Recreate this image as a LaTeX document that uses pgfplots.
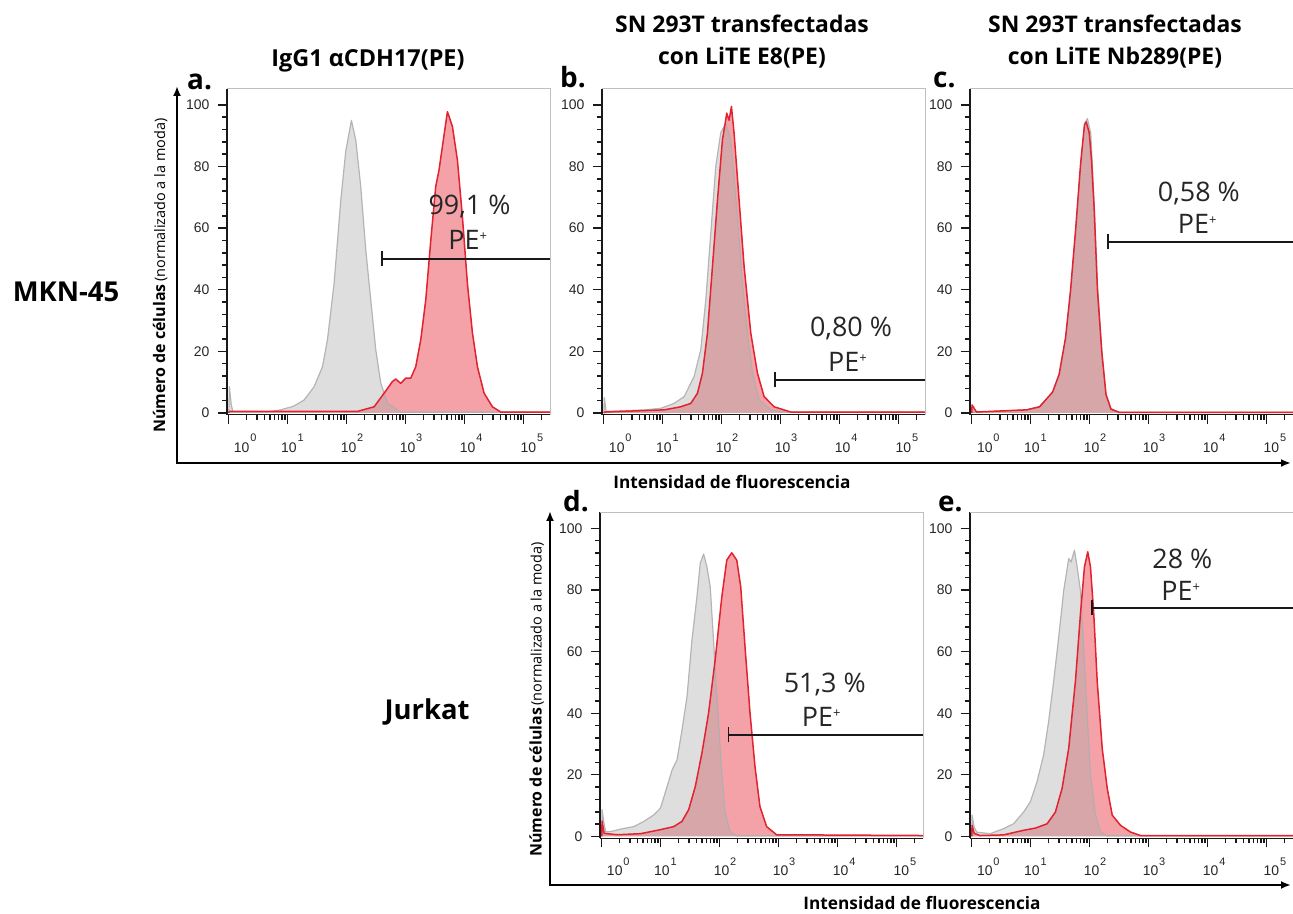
\documentclass[border=0pt]{standalone}
\usepackage{pgfplots}
\pgfplotsset{compat=1.18}
\usepackage{pgfplotstable}
\usepackage{fontspec}
\setmainfont{Open Sans}
\newfontfamily\lib{Liberation Sans}
\usetikzlibrary{arrows.meta}
\definecolor{grayfill}{RGB}{172,172,172}
\definecolor{grayline}{RGB}{175,175,175}
\definecolor{redline}{RGB}{226,34,46}
\definecolor{redfill}{RGB}{244,162,167}
\newcommand{\dec}[1]{10\rlap{\hspace{0.8bp}\raisebox{10.5bp}{\fontsize{11}{11}\selectfont #1}}}
\newcommand{\peplus}{PE\raisebox{9bp}{\fontsize{13}{13}\selectfont +}}

\pgfplotstableread{
x y
0 0
0.01 8.5
0.04 3
0.07 0.3
0.65 0.3
0.88 1
1.10 2.2
1.277 4.2
1.446 8.5
1.588 15
1.672 23.7
1.785 42
1.898 69
1.983 85
2.079 95
2.153 88.6
2.237 73.5
2.322 53
2.407 36.7
2.492 20.5
2.576 9.7
2.689 3.2
2.915 0.3
5.45 0.3
5.45 0
}\agray
\pgfplotstableread{
x y
0 0
0.01 0.5
2.181 0.5
2.463 2
2.633 6.4
2.774 10.2
2.831 11
2.915 9.6
3.0 11.3
3.085 11.3
3.169 15
3.254 23.7
3.339 36.7
3.424 56
3.508 73.5
3.565 79
3.621 86.5
3.706 97.8
3.791 93
3.876 82
3.96 63.7
4.045 42
4.13 26
4.215 15
4.328 6.4
4.469 2
4.61 0.3
5.45 0.3
5.45 0
}\ared
\pgfplotstableread{
x y
0 0
0.01 5
0.04 0.5
0.684 1
0.966 1.5
1.192 3.1
1.362 5.3
1.531 11.8
1.644 20.5
1.729 36.7
1.814 58.4
1.898 80
1.983 91
2.068 94
2.153 88.6
2.266 63.7
2.350 42
2.435 25.9
2.520 13
2.633 4.2
2.831 1
3.1 0.3
5.45 0.3
5.45 0
}\bgray
\pgfplotstableread{
x y
0 0
0.02 0.3
1.023 1
1.305 2
1.475 3.1
1.588 6.4
1.672 12.9
1.757 25.9
1.842 47.5
1.927 69
2.011 88.6
2.085 97.3
2.124 95
2.164 99.5
2.209 90.8
2.294 69
2.379 47.5
2.492 25.9
2.605 12.9
2.718 5.3
2.887 2
3.169 0.3
5.45 0.3
5.45 0
}\bred
\pgfplotstableread{
x y
0 0
0.02 0.2
0.915 1
1.141 2
1.254 4.2
1.367 6.4
1.480 11.8
1.593 23.7
1.678 38.9
1.763 58.3
1.847 80
1.915 94
1.960 95.6
2.017 90.8
2.073 69
2.129 42
2.203 20.5
2.271 6.4
2.356 1.5
2.497 0.2
5.45 0.2
5.45 0
}\cgray
\pgfplotstableread{
x y
0 0
0.005 2.6
0.04 1.5
0.08 0.3
0.93 1
1.15 2
1.26 4.4
1.37 6.8
1.48 12.5
1.59 24.5
1.675 40
1.76 59.5
1.845 81
1.91 93.5
1.94 94.5
1.99 91
2.03 82
2.075 66
2.13 40
2.205 19.5
2.275 6
2.36 1.2
2.5 0.2
5.45 0.2
5.45 0
}\cred
\pgfplotstableread{
x y
0 0
0.005 8.7
0.04 4
0.067 1.5
0.152 1.6
0.32 2.4
0.545 3.2
0.714 4.9
0.882 7
0.995 9.2
1.107 16.2
1.192 21.6
1.276 24.9
1.360 34.6
1.445 45.4
1.529 63.8
1.613 77.8
1.669 88.7
1.726 91.7
1.782 87.6
1.838 81.1
1.894 63.8
1.951 45.4
2.035 20.6
2.091 7.6
2.175 1.6
2.288 0.2
5.45 0.2
5.45 0
}\dgray
\pgfplotstableread{
x y
0 0
0.005 5
0.04 1
0.264 0.55
0.658 0.9
0.995 2.2
1.220 3.2
1.360 4.9
1.473 8.7
1.585 16.2
1.697 27
1.810 40
1.922 57.3
2.035 77.8
2.119 89.7
2.203 92.1
2.288 89.7
2.355 81.1
2.428 61.6
2.513 40
2.597 22.7
2.681 9.7
2.794 3.2
2.963 0.55
5.45 0.3
5.45 0
}\dred
\pgfplotstableread{
x y
0 0
0.005 6.9
0.04 3
0.085 1.4
0.311 0.9
0.537 2.5
0.707 4.1
0.878 7.9
0.991 11.2
1.105 17.7
1.218 26.5
1.303 37.4
1.388 50.4
1.473 64.6
1.558 79.8
1.643 90.2
1.684 89.1
1.740 92.9
1.786 87.5
1.842 79.8
1.898 61.3
1.956 39.5
2.012 19.9
2.097 6.9
2.182 1.4
2.296 0.2
5.45 0.2
5.45 0
}\egray
\pgfplotstableread{
x y
0 0
0.005 3.6
0.04 1
0.141 0.3
0.537 0.5
0.878 2.0
1.077 2.7
1.276 4.1
1.417 7.9
1.531 15.6
1.643 28.6
1.757 50.4
1.842 72.2
1.910 87.5
1.966 92.4
2.012 87.5
2.068 72.2
2.126 50.4
2.211 28.6
2.296 15.6
2.381 6.9
2.522 3.6
2.692 1.4
2.862 0.3
5.45 0.3
5.45 0
}\ered

\pgfplotsset{
 flowax/.style={
  scale only axis, width=323.3bp, height=325.9bp,
  xmin=-0.03, xmax=5.45, ymin=-0.6, ymax=105.2,
  axis lines=left, axis line style={-, draw=black!90, line width=1.3bp},
  tick align=outside,
  xtick={0,1,2,3,4,5}, xticklabel=\empty,
  minor xtick={0.301,0.477,0.602,0.699,0.778,0.845,0.903,0.954,
   1.301,1.477,1.602,1.699,1.778,1.845,1.903,1.954,
   2.301,2.477,2.602,2.699,2.778,2.845,2.903,2.954,
   3.301,3.477,3.602,3.699,3.778,3.845,3.903,3.954,
   4.301,4.477,4.602,4.699,4.778,4.845,4.903,4.954,5.301},
  ytick={0,20,40,60,80,100},
  minor ytick={4,8,12,16,24,28,32,36,44,48,52,56,64,68,72,76,84,88,92,96},
  major tick length=9bp, minor tick length=5bp,
  tick style={black!90},
  every major tick/.append style={line width=1.3bp},
  every minor tick/.append style={line width=1.5bp},
  yticklabel style={font=\lib\fontsize{14}{14}\selectfont, text=black!85, xshift=-5bp},
  /pgf/number format/assume math mode=true,
  extra x ticks={0.22,1.02,2.03,3.03,4.05,5.08},
  extra x tick labels={\dec{0},\dec{1},\dec{2},\dec{3},\dec{4},\dec{5}},
  extra x tick style={major tick length=0pt, tick style={draw=none},
    tick label style={font=\lib\fontsize{14}{14}\selectfont, text=black!85, anchor=north, inner sep=0pt, yshift=-19bp}},
  clip=false,
 },
}
\tikzset{
 rfill/.style={draw=none, fill=redfill},
 gfill/.style={draw=none, fill=grayfill, fill opacity=0.4},
 gline/.style={draw=grayline, line width=1.2bp, line join=round, opacity=0.9},
 rline/.style={draw=redline, line width=1.5bp, line join=round},
 gate/.style={draw=black!90, line width=1.5bp, {Bar[width=15bp]}-},
 ann/.style={font=\fontsize{27}{27}\selectfont, text=black!85, anchor=base},
}
\newcommand{\frameTR}{\draw[gray!50, line width=0.9bp] (rel axis cs:0,1) -- (rel axis cs:1,1) -- (rel axis cs:1,0);}

\begin{document}
\begin{tikzpicture}[x=1bp,y=1bp]
\useasboundingbox (0,0) rectangle (1293,914);
\coordinate (pa) at (227,499.2);
\coordinate (pb) at (602,499.2);
\coordinate (pc) at (970,499.2);
\coordinate (pd) at (600,75.7);
\coordinate (pe) at (970,75.7);

% panel a
\begin{axis}[flowax, at={(pa)}, anchor=south west]
\addplot[rfill] table {\ared} \closedcycle;
\addplot[gfill] table {\agray} \closedcycle;
\addplot[gline] table {\agray};
\addplot[rline] table {\ared};
\addplot[gate] coordinates {(2.588,50) (5.45,50)};
\frameTR
\node[ann] at (axis cs:4.08,64.3) {99,1 \%};
\node[ann] at (axis cs:4.05,52.9) {\peplus};
\end{axis}

% panel b
\begin{axis}[flowax, at={(pb)}, anchor=south west]
\addplot[rfill] table {\bred} \closedcycle;
\addplot[gfill] table {\bgray} \closedcycle;
\addplot[gline] table {\bgray};
\addplot[rline] table {\bred};
\addplot[gate] coordinates {(2.887,10.7) (5.45,10.7)};
\frameTR
\node[ann] at (axis cs:4.19,24.8) {0,80 \%};
\node[ann] at (axis cs:4.13,13.4) {\peplus};
\end{axis}

% panel c
\begin{axis}[flowax, at={(pc)}, anchor=south west]
\addplot[rfill] table {\cred} \closedcycle;
\addplot[gfill] table {\cgray} \closedcycle;
\addplot[gline] table {\cgray};
\addplot[rline] table {\cred};
\addplot[gate] coordinates {(2.30,55.5) (5.45,55.5)};
\frameTR
\node[ann] at (axis cs:3.85,68.5) {0,58 \%};
\node[ann] at (axis cs:3.82,58.3) {\peplus};
\end{axis}

% panel d
\begin{axis}[flowax, at={(pd)}, anchor=south west]
\addplot[rfill] table {\dred} \closedcycle;
\addplot[gfill] table {\dgray} \closedcycle;
\addplot[gline] table {\dgray};
\addplot[rline] table {\dred};
\addplot[gate] coordinates {(2.136,33) (5.45,33)};
\frameTR
\node[ann] at (axis cs:3.78,46.8) {51,3 \%};
\node[ann] at (axis cs:3.72,35.7) {\peplus};
\end{axis}

% panel e
\begin{axis}[flowax, at={(pe)}, anchor=south west]
\addplot[rfill] table {\ered} \closedcycle;
\addplot[gfill] table {\egray} \closedcycle;
\addplot[gline] table {\egray};
\addplot[rline] table {\ered};
\addplot[gate] coordinates {(2.024,74.2) (5.45,74.2)};
\frameTR
\node[ann] at (axis cs:3.57,86.9) {28 \%};
\node[ann] at (axis cs:3.54,76.6) {\peplus};
\end{axis}

% outer axes arrows
\draw[line width=2.2bp, {Latex[length=10bp,width=8bp]}-{Latex[length=10bp,width=8bp]}] (177,828) -- (177,451) -- (1291,451);
\draw[line width=2.2bp, {Latex[length=10bp,width=8bp]}-{Latex[length=10bp,width=8bp]}] (550,403) -- (550,29) -- (1291,29);

% titles
\node[anchor=base, font=\fontsize{23.5}{23.5}\bfseries] at (368,847) {IgG1 αCDH17(PE)};
\node[anchor=base, font=\fontsize{23}{23}\bfseries] at (742,881) {SN 293T transfectadas};
\node[anchor=base, font=\fontsize{23}{23}\bfseries] at (742,849) {con LiTE E8(PE)};
\node[anchor=base, font=\fontsize{23}{23}\bfseries] at (1115,881) {SN 293T transfectadas};
\node[anchor=base, font=\fontsize{23}{23}\bfseries] at (1115,849) {con LiTE Nb289(PE)};

% panel letters
\node[anchor=base west, inner sep=0pt, font=\fontsize{28}{28}\bfseries] at (187,824) {a.};
\node[anchor=base west, inner sep=0pt, font=\fontsize{28}{28}\bfseries] at (560,826) {b.};
\node[anchor=base west, inner sep=0pt, font=\fontsize{28}{28}\bfseries] at (933,826) {c.};
\node[anchor=base west, inner sep=0pt, font=\fontsize{28}{28}\bfseries] at (563,402) {d.};
\node[anchor=base west, inner sep=0pt, font=\fontsize{28}{28}\bfseries] at (938,402) {e.};

% row labels
\node[anchor=base, font=\fontsize{27.5}{27.5}\bfseries] at (66,612) {MKN-45};
\node[anchor=base, font=\fontsize{27.5}{27.5}\bfseries] at (427,194) {Jurkat};

% y labels
\node[rotate=90, anchor=base west, inner sep=0pt] at (165,481) {{\fontsize{16}{16}\bfseries Número de células} {\fontsize{14.5}{14.5}\selectfont (normalizado a la moda)}};
\node[rotate=90, anchor=base west, inner sep=0pt] at (541.7,57.3) {{\fontsize{16}{16}\bfseries Número de células} {\fontsize{14.5}{14.5}\selectfont (normalizado a la moda)}};

% x labels
\node[anchor=base, font=\fontsize{17.3}{17.3}\bfseries] at (732,425.3) {Intensidad de fluorescencia};
\node[anchor=base, font=\fontsize{17.3}{17.3}\bfseries] at (922,4) {Intensidad de fluorescencia};
\end{tikzpicture}
\end{document}
